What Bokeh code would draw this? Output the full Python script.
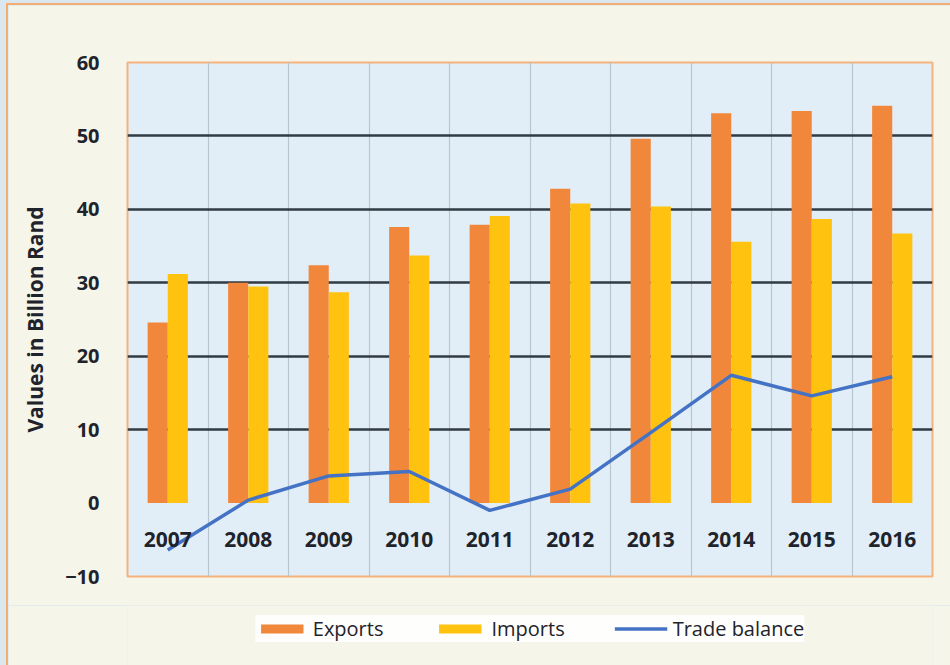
from bokeh.plotting import figure
from bokeh.layouts import column
from bokeh.models import Range1d, FixedTicker, Legend, LegendItem
from bokeh.core.properties import value
from bokeh.embed import file_html
from bokeh.resources import INLINE

years = ["2007", "2008", "2009", "2010", "2011", "2012", "2013", "2014", "2015", "2016"]
exports = [24.6, 30.0, 32.4, 37.6, 37.9, 42.8, 49.6, 53.1, 53.4, 54.1]
imports = [31.2, 29.5, 28.7, 33.7, 39.1, 40.8, 40.4, 35.6, 38.7, 36.7]
balance = [-6.4, 0.4, 3.7, 4.3, -1.0, 1.9, 9.6, 17.4, 14.6, 17.2]
y_ticks = [-10, 0, 10, 20, 30, 40, 50, 60]
grid_ticks = [10, 20, 30, 40, 50]
series_names = ["Exports", "Imports", "Trade balance"]

centers = [i + 0.5 for i in range(len(years))]
x_exp = [c - 0.125 for c in centers]
x_imp = [c + 0.125 for c in centers]
label_y = [-5] * len(years)
boundaries = list(range(1, len(years)))

FONT = "Open Sans"
TXT = "#1f232b"
BG = "#f5f5ea"
C_EXP = "#f0873a"
C_IMP = "#ffc20e"
C_BAL = "#4472c4"

p = figure(width=942, height=600, output_backend="svg", toolbar_location=None,
           x_range=Range1d(0, len(years)), y_range=Range1d(-10, 60),
           min_border_left=119, min_border_right=18, min_border_top=57, min_border_bottom=29)

p.background_fill_color = "#e2eef7"
p.border_fill_color = BG
p.outline_line_color = "#f5b27c"
p.outline_line_width = 2

p.xaxis.visible = False
p.xgrid.ticker = FixedTicker(ticks=boundaries)
p.xgrid.grid_line_color = "#b7c5ce"
p.xgrid.grid_line_width = 1.2

p.yaxis.ticker = FixedTicker(ticks=y_ticks)
p.yaxis.axis_line_color = None
p.yaxis.major_tick_line_color = None
p.yaxis.minor_tick_line_color = None
p.yaxis.major_label_standoff = 22
p.yaxis.major_label_text_font = FONT
p.yaxis.major_label_text_font_style = "bold"
p.yaxis.major_label_text_font_size = "20px"
p.yaxis.major_label_text_color = TXT
p.yaxis.axis_label = "Values in Billion Rand"
p.yaxis.axis_label_text_font = FONT
p.yaxis.axis_label_text_font_style = "bold"
p.yaxis.axis_label_text_font_size = "21px"
p.yaxis.axis_label_text_color = TXT
p.yaxis.axis_label_standoff = 13
p.ygrid.ticker = FixedTicker(ticks=grid_ticks)
p.ygrid.grid_line_color = "#303b43"
p.ygrid.grid_line_width = 2.5

p.vbar(x=x_exp, top=exports, bottom=0, width=0.25, fill_color=C_EXP, line_color=None)
p.vbar(x=x_imp, top=imports, bottom=0, width=0.25, fill_color=C_IMP, line_color=None)
p.line(x=centers, y=balance, line_color=C_BAL, line_width=3.5)

p.text(x=centers, y=label_y, text=years, text_align="center", text_baseline="middle",
       text_font=value(FONT), text_font_style="bold", text_font_size="21px", text_color=TXT)

# legend strip below the chart (series drawn outside its visible range, only the swatches show)
lf = figure(width=942, height=60, output_backend="svg", toolbar_location=None,
            x_range=Range1d(0, len(years)), y_range=Range1d(1000, 1001),
            x_axis_location=None, y_axis_location=None,
            min_border_left=119, min_border_right=18, min_border_top=0, min_border_bottom=0)
lf.grid.visible = False
lf.background_fill_color = BG
lf.border_fill_color = BG
lf.outline_line_color = None
l_exp = lf.vbar(x=x_exp, top=exports, bottom=0, width=0.25, fill_color=C_EXP, line_color=None)
l_imp = lf.vbar(x=x_imp, top=imports, bottom=0, width=0.25, fill_color=C_IMP, line_color=None)
l_bal = lf.line(x=centers, y=balance, line_color=C_BAL, line_width=3.5)

legend = Legend(items=[LegendItem(label=series_names[0], renderers=[l_exp]),
                       LegendItem(label=series_names[1], renderers=[l_imp]),
                       LegendItem(label=series_names[2], renderers=[l_bal])],
                orientation="horizontal", location="top_center")
legend.label_text_font = FONT
legend.label_text_font_size = "20px"
legend.label_text_color = TXT
legend.glyph_width = 53
legend.glyph_height = 11
legend.label_standoff = 5
legend.spacing = 50
legend.padding = 12
legend.margin = 10
legend.background_fill_color = "#ffffff"
legend.background_fill_alpha = 0.85
legend.border_line_color = None
lf.add_layout(legend, "center")

layout = column(p, lf, spacing=0,
                styles={"margin-left": "6px", "margin-top": "3px",
                        "border-left": "2px solid #f6ad72", "border-top": "2px solid #f6ad72"})

html = file_html(layout, INLINE)
html = html.replace("<head>", "<head><style>body{background:#dbe7ef;}</style>", 1)
open("out.html", "w").write(html)
